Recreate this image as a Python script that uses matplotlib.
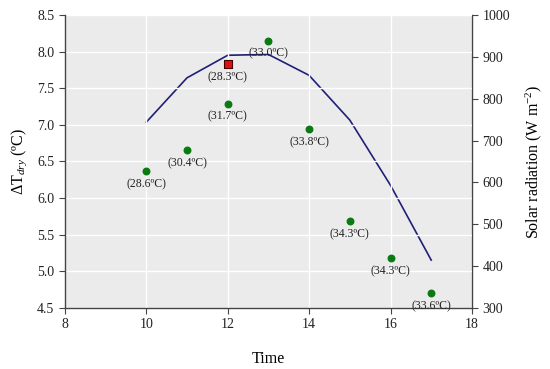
import matplotlib
matplotlib.use("Agg")
import matplotlib.pyplot as plt

plt.rcParams['font.family'] = ['Liberation Serif', 'DejaVu Serif']
plt.rcParams['mathtext.fontset'] = 'custom'
plt.rcParams['mathtext.rm'] = 'Liberation Serif'
plt.rcParams['mathtext.it'] = 'Liberation Serif:italic'

# Data
hours = [10, 11, 12, 13, 14, 15, 16, 17]
solar = [744, 850, 904, 906, 856, 749, 593, 414]
dt_hours = [10, 11, 12, 13, 14, 15, 16, 17]
dt_values = [6.37, 6.65, 7.29, 8.15, 6.94, 5.68, 5.18, 4.70]
dt_labels = ["(28.6ºC)", "(30.4ºC)", "(31.7ºC)", "(33.0ºC)", "(33.8ºC)",
             "(34.3ºC)", "(34.3ºC)", "(33.6ºC)"]
red_hour = [12]
red_value = [7.83]
red_label = ["(28.3ºC)"]

fig = plt.figure(figsize=(5.5, 3.69), dpi=100)
ax = fig.add_axes([0.118, 0.166, 0.740, 0.793])
ax.set_facecolor('#ebebeb')
ax.grid(True, color='white', linewidth=1.0)
ax.set_axisbelow(True)

ax.set_xlim(8, 18)
ax.set_ylim(4.5, 8.5)
ax.set_xticks([8, 10, 12, 14, 16, 18])
ax.set_yticks([4.5, 5.0, 5.5, 6.0, 6.5, 7.0, 7.5, 8.0, 8.5])
ax.set_yticklabels([f"{v:.1f}" for v in ax.get_yticks()])

ax2 = ax.twinx()
ax2.set_ylim(300, 1000)
ax2.set_yticks([300, 400, 500, 600, 700, 800, 900, 1000])
ax2.plot(hours, solar, color='#1f1f78', linewidth=1.2, zorder=2)

ax2.set_zorder(1)
ax.set_zorder(2)
ax.patch.set_visible(False)
ax2.patch.set_visible(True)
ax2.patch.set_facecolor('#ebebeb')
ax.grid(True, color='white', linewidth=1.0)

ax.scatter(dt_hours, dt_values, s=22, color='#0a7a12', zorder=3)
for x, y, t in zip(dt_hours, dt_values, dt_labels):
    ax.annotate(t, (x, y), xytext=(0, -5), textcoords='offset points',
                ha='center', va='top', fontsize=8.5, color='#222222')
ax.scatter(red_hour, red_value, s=28, marker='s', color='#e01010',
           edgecolor='#400000', linewidth=0.8, zorder=4)
for x, y, t in zip(red_hour, red_value, red_label):
    ax.annotate(t, (x, y), xytext=(0, -5), textcoords='offset points',
                ha='center', va='top', fontsize=8.5, color='#222222')

for a in (ax, ax2):
    a.spines['top'].set_visible(False)
    for s in ('left', 'right', 'bottom'):
        a.spines[s].set_color('#444444')
        a.spines[s].set_linewidth(1.0)
    a.tick_params(direction='out', length=4, color='#444444',
                  labelsize=10, labelcolor='#222222')
ax.spines['right'].set_visible(False)
ax2.spines['left'].set_visible(False)
ax2.spines['bottom'].set_visible(False)

ax.set_xlabel("Time", fontsize=11.5, labelpad=14)
ax.set_ylabel("ΔT$_{\\mathit{dry}}$ (ºC)", fontsize=11.5, labelpad=6)
ax2.set_ylabel("Solar radiation (W m$^{-2}$)", fontsize=11.5, labelpad=10)

fig.savefig("out.png", dpi=100, facecolor='white')
